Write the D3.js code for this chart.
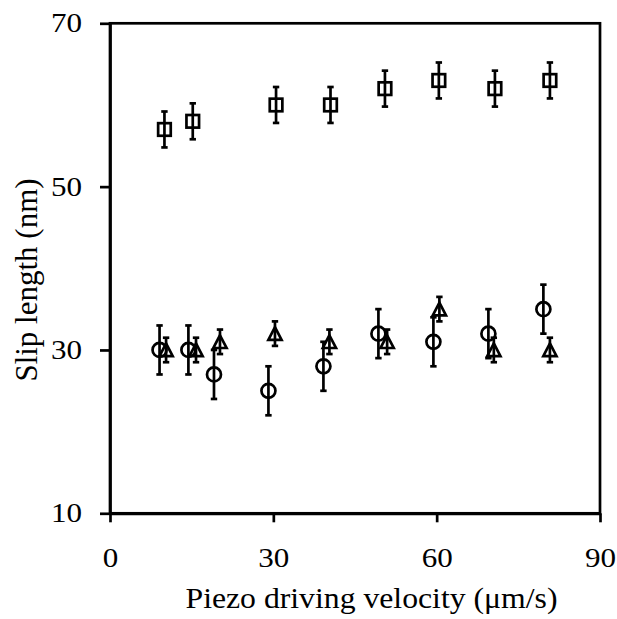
<!DOCTYPE html>
<html>
<head>
<meta charset="utf-8">
<script src="https://cdn.jsdelivr.net/npm/d3@7"></script>
<style>
  html, body { margin: 0; padding: 0; background: #fff; }
  svg { display: block; }
  text { font-family: "Liberation Serif", "Times New Roman", serif; fill: #000; }
</style>
</head>
<body>
<svg id="chart" width="617" height="619"></svg>
<script>
// Slip length measured at several piezo driving velocities (three samples)
const squareVelocity   = [10.0, 15.2, 30.5, 40.5, 50.5, 60.4, 70.7, 80.8];
const squareSlip       = [57, 58, 60, 60, 62, 63, 62, 63];
const squareError      = [2.2, 2.2, 2.2, 2.2, 2.2, 2.2, 2.2, 2.2];

const circleVelocity   = [9.1, 14.4, 19.1, 29.1, 39.2, 49.3, 59.4, 69.5, 79.6];
const circleSlip       = [30, 30, 27, 25, 28, 32, 31, 32, 35];
const circleError      = [3, 3, 3, 3, 3, 3, 3, 3, 3];

const triangleVelocity = [10.3, 15.8, 20.2, 30.3, 40.3, 50.9, 60.5, 70.5, 80.8];
const triangleSlip     = [30, 30, 31, 32, 31, 31, 35, 30, 30];
const triangleError    = [1.5, 1.5, 1.5, 1.5, 1.5, 1.5, 1.5, 1.5, 1.5];

const xTicks = [0, 30, 60, 90];
const yTicks = [10, 30, 50, 70];
const xTitle = "Piezo driving velocity (\u03bcm/s)";
const yTitle = "Slip length (nm)";

const svg = d3.select("#chart");
const plotLeft = 110, plotRight = 600, plotTop = 23.3, plotBottom = 513.3;
const stretch = 1.15;   // tick labels are set slightly wide
const lw = 2.7;

const x = d3.scaleLinear().domain([0, 90]).range([plotLeft, plotRight]);
const y = d3.scaleLinear().domain([10, 70]).range([plotBottom, plotTop]);

svg.append("rect").attr("width", 617).attr("height", 619).attr("fill", "#fff");

// frame
svg.append("rect")
  .attr("x", plotLeft).attr("y", plotTop)
  .attr("width", plotRight - plotLeft).attr("height", plotBottom - plotTop)
  .attr("fill", "none").attr("stroke", "#000").attr("stroke-width", lw);

// axes
const xAxis = svg.append("g")
  .attr("transform", `translate(0,${plotBottom})`)
  .call(d3.axisBottom(x).tickValues(xTicks).tickSizeInner(9).tickSizeOuter(0).tickPadding(25.5));
const yAxis = svg.append("g")
  .attr("transform", `translate(${plotLeft},0)`)
  .call(d3.axisLeft(y).tickValues(yTicks).tickSizeInner(10).tickSizeOuter(0).tickPadding(18));

[xAxis, yAxis].forEach(g => {
  g.select(".domain").attr("stroke", "#000").attr("stroke-width", lw);
  g.selectAll(".tick line").attr("stroke", "#000").attr("stroke-width", lw);
  g.selectAll(".tick text")
    .attr("font-family", "Liberation Serif, Times New Roman, serif")
    .attr("font-size", 27).attr("fill", "#000");
});
yAxis.selectAll(".tick text")
  .attr("x", -28 / stretch)
  .attr("transform", `scale(${stretch},1)`);
xAxis.selectAll(".tick text")
  .attr("transform", `scale(${stretch},1)`);

// axis titles
svg.append("text")
  .attr("x", 371.5).attr("y", 608)
  .attr("text-anchor", "middle")
  .attr("font-size", 29)
  .attr("textLength", 372)
  .attr("lengthAdjust", "spacingAndGlyphs")
  .text(xTitle);
svg.append("text")
  .attr("transform", "translate(37,280) rotate(-90)")
  .attr("text-anchor", "middle")
  .attr("font-size", 31)
  .text(yTitle);

// series drawing
function drawSeries(vx, vy, ve, shape) {
  const pts = vx.map((v, i) => ({ v, s: vy[i], e: ve[i] }));
  const g = svg.append("g");
  const capHalf = 3.2;

  const m = g.selectAll("g.pt").data(pts).join("g").attr("class", "pt");
  // markers (hollow)
  m.each(function(d) {
    const sel = d3.select(this);
    const cx = x(d.v), cy = y(d.s);
    if (shape === "square") {
      sel.append("rect")
        .attr("x", cx - 6.3).attr("y", cy - 6.3)
        .attr("width", 12.6).attr("height", 12.6);
    } else if (shape === "circle") {
      sel.append("circle").attr("cx", cx).attr("cy", cy).attr("r", 7);
    } else {
      sel.append("path")
        .attr("d", `M${cx},${cy - 6.5}L${cx + 6.6},${cy + 6.2}L${cx - 6.6},${cy + 6.2}Z`);
    }
    sel.selectAll("rect,circle,path")
      .attr("fill", "none").attr("stroke", "#000").attr("stroke-width", lw)
      .attr("stroke-linejoin", "miter");
  });
  // error bars
  m.append("line")
    .attr("x1", d => x(d.v)).attr("x2", d => x(d.v))
    .attr("y1", d => y(d.s + d.e)).attr("y2", d => y(d.s - d.e));
  m.append("line")
    .attr("x1", d => x(d.v) - capHalf).attr("x2", d => x(d.v) + capHalf)
    .attr("y1", d => y(d.s + d.e)).attr("y2", d => y(d.s + d.e));
  m.append("line")
    .attr("x1", d => x(d.v) - capHalf).attr("x2", d => x(d.v) + capHalf)
    .attr("y1", d => y(d.s - d.e)).attr("y2", d => y(d.s - d.e));
  m.selectAll("line").attr("stroke", "#000").attr("stroke-width", lw);
}

drawSeries(squareVelocity, squareSlip, squareError, "square");
drawSeries(circleVelocity, circleSlip, circleError, "circle");
drawSeries(triangleVelocity, triangleSlip, triangleError, "triangle");
</script>
</body>
</html>
